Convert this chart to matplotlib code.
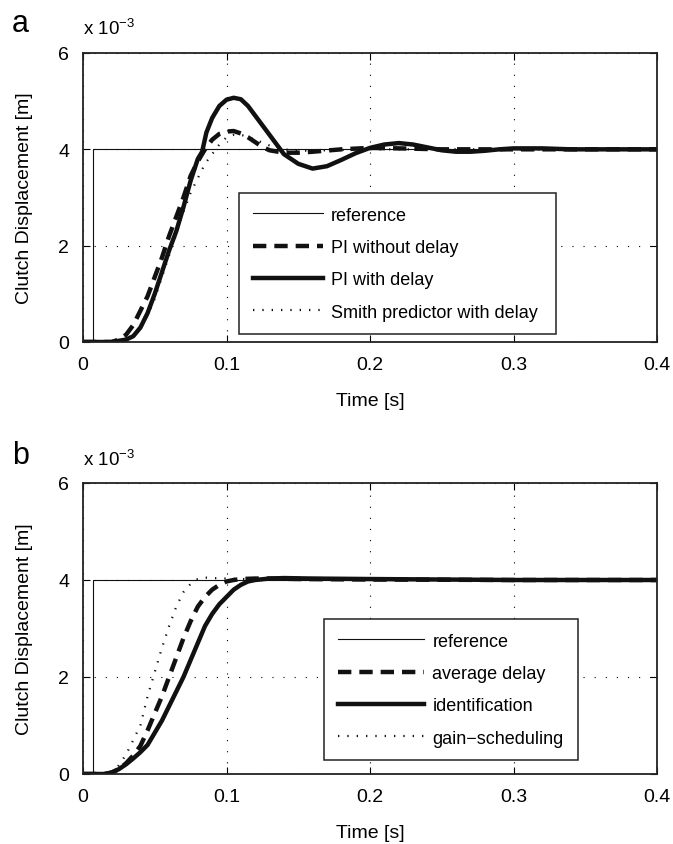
import matplotlib
matplotlib.use("Agg")
import matplotlib.pyplot as plt

plt.rcParams['font.family'] = ['Liberation Sans', 'DejaVu Sans']
plt.rcParams['mathtext.fontset'] = 'custom'
plt.rcParams['mathtext.rm'] = 'Liberation Sans'

# ---------------- data (displacement in units of 1e-3 m) ----------------
ref_t = [0, 0.007, 0.007, 0.4]
ref_y = [0, 0, 4, 4]

# panel a
a_pi_nodelay_t = [0, 0.02, 0.025, 0.03, 0.035, 0.04, 0.045, 0.05, 0.055, 0.06, 0.065, 0.07, 0.075,
                  0.08, 0.085, 0.09, 0.095, 0.1, 0.105, 0.11, 0.115, 0.12, 0.125, 0.13, 0.14, 0.15,
                  0.16, 0.18, 0.2, 0.22, 0.25, 0.3, 0.4]
a_pi_nodelay_y = [0, 0, 0.05, 0.15, 0.35, 0.65, 0.95, 1.35, 1.75, 2.2, 2.6, 3.0, 3.45,
                  3.75, 4.0, 4.2, 4.32, 4.37, 4.38, 4.33, 4.25, 4.15, 4.05, 3.98, 3.93, 3.93,
                  3.95, 4.0, 4.03, 4.02, 4.0, 4.0, 4.0]

a_pi_delay_t = [0, 0.02, 0.03, 0.035, 0.04, 0.045, 0.05, 0.055, 0.06, 0.065, 0.07, 0.075, 0.08,
                0.083, 0.086, 0.09, 0.095, 0.1, 0.105, 0.11, 0.115, 0.12, 0.125, 0.13, 0.135, 0.14,
                0.15, 0.16, 0.17, 0.18, 0.19, 0.2, 0.21, 0.22, 0.23, 0.24, 0.25, 0.26, 0.27, 0.28,
                0.29, 0.3, 0.32, 0.34, 0.36, 0.4]
a_pi_delay_y = [0, 0, 0.05, 0.12, 0.3, 0.6, 1.0, 1.45, 1.9, 2.3, 2.8, 3.35, 3.8,
                3.95, 4.35, 4.65, 4.9, 5.03, 5.07, 5.04, 4.9, 4.7, 4.5, 4.3, 4.1, 3.9,
                3.7, 3.6, 3.65, 3.78, 3.92, 4.03, 4.1, 4.13, 4.1, 4.04, 3.98, 3.95, 3.95, 3.97,
                4.0, 4.02, 4.02, 4.0, 4.0, 4.0]

a_smith_t = [0, 0.02, 0.03, 0.035, 0.04, 0.045, 0.05, 0.055, 0.06, 0.065, 0.07, 0.075, 0.08, 0.085,
             0.09, 0.095, 0.1, 0.105, 0.11, 0.115, 0.12, 0.13, 0.14, 0.15, 0.17, 0.2, 0.25, 0.3, 0.4]
a_smith_y = [0, 0, 0.05, 0.12, 0.28, 0.55, 0.9, 1.35, 1.8, 2.25, 2.7, 3.1, 3.4, 3.7,
             3.9, 4.1, 4.25, 4.3, 4.3, 4.26, 4.2, 4.08, 4.0, 3.97, 3.98, 4.0, 4.0, 4.0, 4.0]

# panel b
b_avg_t = [0, 0.015, 0.02, 0.025, 0.03, 0.035, 0.04, 0.045, 0.05, 0.055, 0.06, 0.065, 0.07, 0.075,
           0.08, 0.085, 0.09, 0.095, 0.1, 0.105, 0.11, 0.12, 0.13, 0.15, 0.2, 0.3, 0.4]
b_avg_y = [0, 0, 0.03, 0.1, 0.22, 0.38, 0.58, 0.9, 1.25, 1.6, 2.0, 2.4, 2.8, 3.15,
           3.45, 3.65, 3.8, 3.9, 3.97, 4.0, 4.02, 4.03, 4.03, 4.02, 4.01, 4.0, 4.0]

b_ident_t = [0, 0.015, 0.02, 0.025, 0.03, 0.035, 0.04, 0.045, 0.05, 0.055, 0.06, 0.065, 0.07, 0.075,
             0.08, 0.085, 0.09, 0.095, 0.1, 0.105, 0.11, 0.115, 0.12, 0.13, 0.14, 0.16, 0.2, 0.25,
             0.3, 0.4]
b_ident_y = [0, 0, 0.03, 0.1, 0.2, 0.32, 0.45, 0.6, 0.85, 1.1, 1.4, 1.7, 2.0, 2.35,
             2.7, 3.05, 3.3, 3.5, 3.65, 3.8, 3.9, 3.97, 4.0, 4.03, 4.04, 4.03, 4.02, 4.01,
             4.0, 4.0]

b_gain_t = [0, 0.015, 0.02, 0.025, 0.03, 0.035, 0.04, 0.045, 0.05, 0.055, 0.06, 0.065, 0.07, 0.075,
            0.08, 0.085, 0.09, 0.1, 0.11, 0.12, 0.14, 0.2, 0.3, 0.4]
b_gain_y = [0, 0, 0.05, 0.18, 0.4, 0.7, 1.0, 1.6, 2.1, 2.6, 3.05, 3.45, 3.75, 3.92,
            4.02, 4.05, 4.04, 4.03, 4.02, 4.02, 4.01, 4.0, 4.0, 4.0]

x_ticks = [0, 0.1, 0.2, 0.3, 0.4]
x_ticklabels = ['0', '0.1', '0.2', '0.3', '0.4']
y_ticks = [0, 2, 4, 6]
y_ticklabels = ['0', '2', '4', '6']

a_labels = ['reference', 'PI without delay', 'PI with delay', 'Smith predictor with delay']
b_labels = ['reference', 'average delay', 'identification', 'gain\u2212scheduling']

# ---------------- figure ----------------
W, H = 673, 845
fig = plt.figure(figsize=(W / 100, H / 100), dpi=100)

TICK_FS = 14
LAB_FS = 14
LEG_FS = 13
AX_LEFT, AX_RIGHT = 83, 657


def make_axes(top_px, bot_px):
    return fig.add_axes([AX_LEFT / W, 1 - bot_px / H, (AX_RIGHT - AX_LEFT) / W,
                         (bot_px - top_px) / H])


def style_axes(ax, h_px):
    ax.set_xlim(0, 0.4)
    ax.set_ylim(0, 6)
    ax.set_xticks(x_ticks)
    ax.set_xticklabels(x_ticklabels)
    ax.set_yticks(y_ticks)
    ax.set_yticklabels(y_ticklabels)
    ax.tick_params(direction='in', length=5, width=0.8, top=True, right=True,
                   labelsize=TICK_FS, pad=10)
    ax.grid(True, color='black', linewidth=0.8, linestyle=(0, (1, 9)))
    for s in ax.spines.values():
        s.set_linewidth(1.3)
        s.set_color('#222222')
    ax.set_xlabel('Time [s]', fontsize=LAB_FS)
    ax.xaxis.set_label_coords(0.5, -50 / h_px)
    ax.set_ylabel('Clutch Displacement [m]', fontsize=LAB_FS)
    ax.yaxis.set_label_coords(-50 / (AX_RIGHT - AX_LEFT), 0.5)


def draw(ax, series, labels, legend_box, handlelength):
    (rt, ry), (dt, dy), (st, sy), (ot, oy) = series
    h1, = ax.plot(rt, ry, color='#111111', linewidth=0.8, label=labels[0])
    h2, = ax.plot(dt, dy, color='#111111', linewidth=3.2, linestyle=(0, (3, 1.8)),
                  label=labels[1])
    h3, = ax.plot(st, sy, color='#111111', linewidth=3.2, linestyle='-', label=labels[2])
    h4, = ax.plot(ot, oy, color='#111111', linewidth=1.6, linestyle=(0, (0.6, 3.6)),
                  label=labels[3])
    leg = ax.legend(handles=[h1, h2, h3, h4], loc='upper left', bbox_to_anchor=legend_box,
                    mode='expand', fontsize=LEG_FS, frameon=True, fancybox=False,
                    framealpha=1, edgecolor='#222222', borderaxespad=0,
                    handlelength=handlelength, handletextpad=0.45, labelspacing=0.85,
                    borderpad=0.75)
    leg.get_frame().set_linewidth(1.1)


def legend_box(ax_top, ax_bot, left, right, top, bot):
    h = ax_bot - ax_top
    w = AX_RIGHT - AX_LEFT
    return ((left - AX_LEFT) / w, (ax_bot - bot) / h, (right - left) / w, (bot - top) / h)


# panel a
A_TOP, A_BOT = 54, 343
ax1 = make_axes(A_TOP, A_BOT)
style_axes(ax1, A_BOT - A_TOP)
draw(ax1, [(ref_t, ref_y), (a_pi_nodelay_t, a_pi_nodelay_y), (a_pi_delay_t, a_pi_delay_y),
           (a_smith_t, a_smith_y)], a_labels,
     legend_box(A_TOP, A_BOT, 239, 556, 194, 334), 3.9)

# panel b
B_TOP, B_BOT = 484, 775
ax2 = make_axes(B_TOP, B_BOT)
style_axes(ax2, B_BOT - B_TOP)
draw(ax2, [(ref_t, ref_y), (b_avg_t, b_avg_y), (b_ident_t, b_ident_y),
           (b_gain_t, b_gain_y)], b_labels,
     legend_box(B_TOP, B_BOT, 324, 578, 620, 759), 4.8)

# panel letters and exponent labels
fig.text(12 / W, 1 - 24 / H, 'a', fontsize=22, va='center', ha='left')
fig.text(83 / W, 1 - 29 / H, 'x 10$^{\\mathregular{\u2212 3}}$', fontsize=13.5, va='center', ha='left')
fig.text(12 / W, 1 - 456 / H, 'b', fontsize=22, va='center', ha='left')
fig.text(83 / W, 1 - 460 / H, 'x 10$^{\\mathregular{\u2212 3}}$', fontsize=13.5, va='center', ha='left')

fig.savefig('out.png', dpi=100)
